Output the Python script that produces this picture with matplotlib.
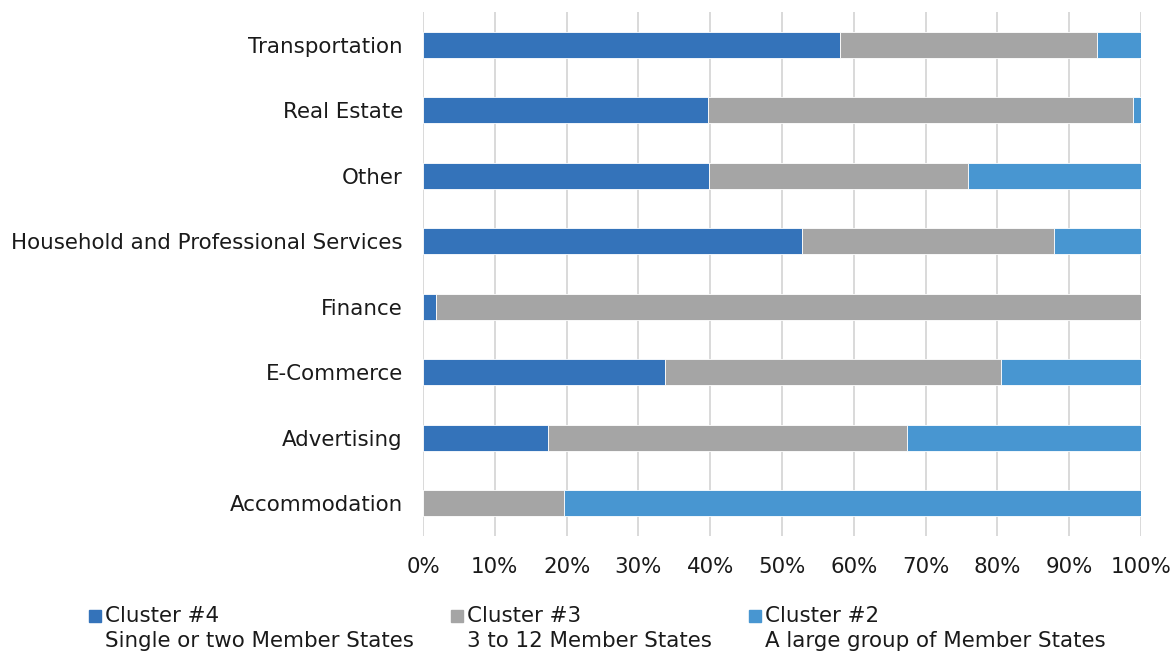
import matplotlib
matplotlib.use("Agg")
import matplotlib.pyplot as plt
from matplotlib.patches import Rectangle
import numpy as np

categories = ["Transportation", "Real Estate", "Other", "Household and Professional Services",
              "Finance", "E-Commerce", "Advertising", "Accommodation"]
cluster4 = [58.1, 39.7, 39.8, 52.8, 1.8, 33.7, 17.4, 0.0]
cluster3 = [35.8, 59.2, 36.1, 35.1, 98.2, 46.8, 50.0, 19.6]
cluster2 = [6.1, 1.1, 24.1, 12.1, 0.0, 19.5, 32.6, 80.4]
series_names = ["Cluster #4", "Cluster #3", "Cluster #2"]
series_desc = ["Single or two Member States", "3 to 12 Member States", "A large group of Member States"]
colors = ["#3473BA", "#A5A5A5", "#4896D1"]
xticks = list(range(0, 101, 10))

FS = 15.4
plt.rcParams['font.family'] = ['DejaVu Sans']
fig = plt.figure(figsize=(11.76, 6.52), dpi=100)
ax = fig.add_axes([423/1176, 1 - 536/652, (1141-423)/1176, (536-12)/652])

y = np.arange(len(categories))
left = np.zeros(len(categories))
for vals, c in zip([cluster4, cluster3, cluster2], colors):
    vals = np.array(vals)
    ax.barh(y, vals, left=left, height=0.4, color=c, edgecolor='white', linewidth=0.6, zorder=3)
    left += vals

ax.set_xlim(0, 100)
ax.set_ylim(len(categories) - 0.5, -0.5)
ax.set_yticks(y)
ax.set_yticklabels(categories, fontsize=FS, color='#1a1a1a')
ax.set_xticks(xticks)
ax.set_xticklabels([f"{t}%" for t in xticks], fontsize=FS, color='#1a1a1a')
ax.tick_params(axis='both', length=0)
ax.tick_params(axis='y', pad=14.5)
ax.tick_params(axis='x', pad=15)
for s in ax.spines.values():
    s.set_visible(False)
ax.grid(axis='x', color='#D9D9D9', linewidth=1.4, zorder=0)
ax.set_axisbelow(True)

# legend
leg_x = [89, 451, 749]
for xm, name, desc, c in zip(leg_x, series_names, series_desc, colors):
    fig.add_artist(Rectangle((xm/1176, 1 - 622/652), 12/1176, 12/652, color=c, transform=fig.transFigure))
    fig.text((xm + 16)/1176, 1 - 616/652, name, fontsize=FS, va='center', ha='left', color='#1a1a1a')
    fig.text((xm + 16)/1176, 1 - 641/652, desc, fontsize=FS, va='center', ha='left', color='#1a1a1a')

fig.savefig("out.png", dpi=100)
